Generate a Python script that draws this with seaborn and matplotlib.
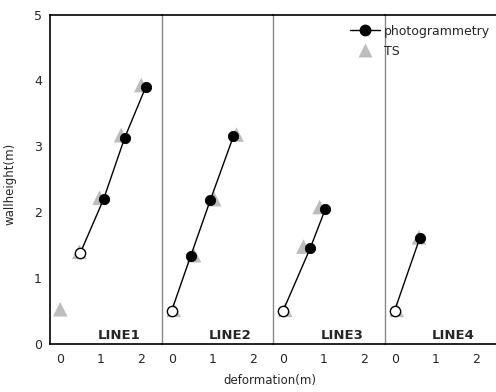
import matplotlib
matplotlib.use("Agg")
import matplotlib.pyplot as plt
import seaborn as sns
import pandas as pd
from matplotlib.lines import Line2D

sns.set_style("white")
plt.rcParams['font.family'] = ['DejaVu Sans']

lines = ["LINE1", "LINE2", "LINE3", "LINE4"]
photo_x = [[0.50, 1.07, 1.59, 2.11], [0.00, 0.47, 0.95, 1.52], [0.00, 0.67, 1.04], [0.00, 0.62]]
photo_y = [[1.39, 2.20, 3.13, 3.90], [0.51, 1.34, 2.18, 3.15], [0.51, 1.46, 2.05], [0.51, 1.61]]
ts_x = [[0.00, 0.47, 0.97, 1.50, 2.00], [0.05, 0.55, 1.05, 1.60], [0.05, 0.50, 0.90], [0.05, 0.60]]
ts_y = [[0.53, 1.40, 2.22, 3.17, 3.93], [0.52, 1.35, 2.20, 3.18], [0.52, 1.48, 2.08], [0.52, 1.62]]
x_ticks = [0, 1, 2]
y_ticks = [0, 1, 2, 3, 4, 5]

fig, axes = plt.subplots(1, 4, figsize=(4.96, 3.92), dpi=100, sharey=True)
fig.subplots_adjust(left=0.101, right=1.0, bottom=0.122, top=0.963, wspace=0)

for i, ax in enumerate(axes):
    p = pd.DataFrame({"x": photo_x[i], "y": photo_y[i]})
    t = pd.DataFrame({"x": ts_x[i], "y": ts_y[i]})
    sns.scatterplot(data=t, x="x", y="y", ax=ax, marker="^", s=110, color="#bdbdbd",
                    edgecolor="none", zorder=2, legend=False)
    sns.lineplot(data=p, x="x", y="y", ax=ax, color="black", lw=1, sort=False,
                 estimator=None, zorder=3, legend=False)
    sns.scatterplot(data=p.iloc[1:], x="x", y="y", ax=ax, marker="o", s=55, color="black",
                    edgecolor="black", zorder=4, legend=False)
    sns.scatterplot(data=p.iloc[:1], x="x", y="y", ax=ax, marker="o", s=55, color="white",
                    edgecolor="black", linewidth=1, zorder=4, legend=False)
    ax.set_xlim(-0.25, 2.5)
    ax.set_ylim(0, 5)
    ax.set_xticks(x_ticks)
    ax.set_yticks(y_ticks)
    ax.set_xlabel("")
    ax.set_ylabel("")
    ax.tick_params(axis="both", labelsize=9, length=0, pad=6)
    ax.text(1.45, 0.13, lines[i], ha="center", va="center", fontsize=9.5, fontweight="bold")
    for s in ["left", "right", "top", "bottom"]:
        ax.spines[s].set_visible(False)
    ax.spines["top"].set_visible(True)
    ax.spines["top"].set_color("black")
    ax.spines["top"].set_linewidth(1.2)
    ax.spines["bottom"].set_visible(True)
    ax.spines["bottom"].set_color("black")
    ax.spines["bottom"].set_linewidth(1.2)
    if i == 0:
        ax.spines["left"].set_visible(True)
        ax.spines["left"].set_color("black")
        ax.spines["left"].set_linewidth(1.2)
    else:
        ax.spines["left"].set_visible(True)
        ax.spines["left"].set_color("#888888")
        ax.spines["left"].set_linewidth(1)
        ax.tick_params(axis="y", left=False)

fig.text(0.02, 0.53, "wallheight(m)", rotation=90, ha="center", va="center", fontsize=8.5)
fig.text(0.545, 0.03, "deformation(m)", ha="center", va="center", fontsize=8.5)

handles = [
    Line2D([0], [0], color="black", lw=1, marker="o", markersize=7.5, markerfacecolor="black"),
    Line2D([0], [0], color="none", marker="^", markersize=10, markerfacecolor="#bdbdbd",
           markeredgecolor="none"),
]
fig.legend(handles, ["photogrammetry", "TS"], loc="upper left", bbox_to_anchor=(0.705, 0.937),
           frameon=False, fontsize=9, handlelength=2.4, handletextpad=0.35,
           labelspacing=0.55, borderaxespad=0, borderpad=0)

fig.savefig("out.png", dpi=100)
